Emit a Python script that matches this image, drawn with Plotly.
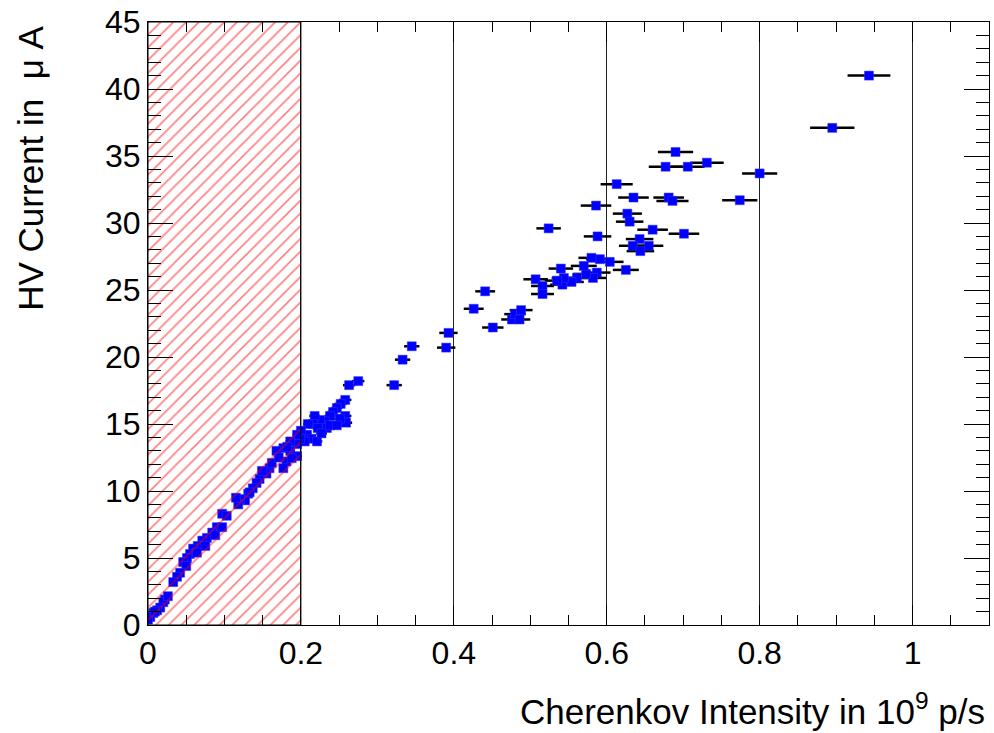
import plotly.graph_objects as go

# Cherenkov intensity (10^9 p/s), HV current (uA), horizontal uncertainty
intensity = [
    0.943, 0.895, 0.800, 0.774, 0.731, 0.706, 0.690, 0.677, 0.613, 0.635,
    0.681, 0.686, 0.586, 0.627, 0.630, 0.660, 0.701, 0.588, 0.643, 0.634,
    0.655, 0.644, 0.625, 0.604, 0.591, 0.580, 0.587, 0.582, 0.573, 0.570,
    0.561, 0.554, 0.542, 0.544, 0.535, 0.540, 0.507, 0.516, 0.516, 0.524,
    0.426, 0.441, 0.451, 0.476, 0.480, 0.488, 0.486, 0.393, 0.390, 0.345,
    0.333, 0.322, 0.275, 0.263, 0.258, 0.252, 0.247, 0.242, 0.238, 0.258,
    0.259, 0.251, 0.231, 0.225, 0.218, 0.216, 0.234, 0.222, 0.209, 0.208,
    0.214, 0.221, 0.205, 0.227, 0.238, 0.247, 0.200,
    0.199, 0.195, 0.195, 0.186, 0.177, 0.168, 0.186, 0.181, 0.177, 0.195,
    0.188, 0.159, 0.155, 0.146, 0.142, 0.137, 0.131, 0.127, 0.120, 0.118,
    0.097, 0.103, 0.090, 0.084, 0.077, 0.071, 0.065, 0.059, 0.055, 0.051,
    0.046, 0.050, 0.042, 0.038, 0.033, 0.022, 0.020, 0.016, 0.012, 0.007,
    0.003, 0.000, 0.088, 0.075, 0.064, 0.097, 0.149, 0.162, 0.171, 0.182,
    0.133, 0.115, 0.026, 0.009,
]
current = [
    41.0, 37.1, 33.7, 31.7, 34.5, 34.2, 35.3, 34.2, 32.9, 31.9,
    31.9, 31.65, 31.3, 30.7, 30.1, 29.5, 29.2, 29.0, 28.8, 28.3,
    28.3, 27.9, 26.5, 27.1, 27.3, 27.4, 26.3, 25.9, 26.2, 26.8,
    25.9, 25.6, 25.4, 25.9, 25.7, 26.6, 25.8, 25.3, 24.7, 29.6,
    23.6, 24.9, 22.2, 22.8, 23.2, 23.5, 22.8, 21.8, 20.7, 20.8,
    19.8, 17.9, 18.2, 17.9, 16.8, 16.5, 16.2, 15.9, 15.6, 15.6,
    15.1, 15.4, 15.2, 15.3, 15.6, 15.0, 14.7, 14.7, 15.0, 14.2,
    13.9, 13.7, 13.7, 14.3, 14.9, 14.9, 14.5,
    13.9, 13.5, 14.2, 13.7, 13.2, 13.0, 13.0, 12.2, 11.7, 12.6,
    12.45, 11.7, 11.3, 10.9, 10.6, 10.2, 9.8, 9.3, 9.4, 9.0,
    8.3, 8.15, 7.3, 6.9, 6.5, 6.3, 5.9, 5.7, 5.3, 5.0,
    4.7, 4.4, 3.9, 3.6, 3.2, 1.9, 1.7, 1.3, 1.1, 0.9,
    0.6, 0.4, 6.7, 5.9, 5.4, 7.3, 11.5, 12.1, 12.5, 13.3,
    9.9, 9.5, 2.15, 1.0,
]
intensity_err = [
    0.028, 0.029, 0.023, 0.023, 0.022, 0.022, 0.023, 0.022, 0.021, 0.020,
    0.020, 0.021, 0.020, 0.019, 0.018, 0.020, 0.020, 0.018, 0.018, 0.018,
    0.019, 0.018, 0.017, 0.018, 0.018, 0.017, 0.018, 0.017, 0.017, 0.017,
    0.017, 0.016, 0.016, 0.016, 0.016, 0.016, 0.016, 0.015, 0.015, 0.016,
    0.013, 0.013, 0.014, 0.014, 0.014, 0.015, 0.014, 0.012, 0.012, 0.010,
    0.010, 0.010, 0.008, 0.008, 0.008, 0.008, 0.007, 0.007, 0.007, 0.008,
    0.008, 0.008, 0.007, 0.007, 0.007, 0.006, 0.007, 0.007, 0.006, 0.006,
    0.006, 0.007, 0.006, 0.007, 0.007, 0.007, 0.006,
    0.006, 0.006, 0.006, 0.006, 0.005, 0.005, 0.006, 0.005, 0.005, 0.006,
    0.006, 0.005, 0.005, 0.004, 0.004, 0.004, 0.004, 0.004, 0.004, 0.004,
    0.003, 0.003, 0.003, 0.003, 0.002, 0.002, 0.002, 0.002, 0.002, 0.002,
    0.001, 0.002, 0.001, 0.001, 0.001, 0.001, 0.001, 0.000, 0.000, 0.000,
    0.000, 0.000, 0.003, 0.002, 0.002, 0.003, 0.004, 0.005, 0.005, 0.005,
    0.004, 0.003, 0.001, 0.000,
]

# excluded (hatched) region
cut_x = [0.0, 0.2]
y_span = [0.0, 45.0]

x_range = [0.0, 1.1]
y_range = [0.0, 45.0]

FONT = "Liberation Sans, Arial, Helvetica, sans-serif"

fig = go.Figure()

fig.add_trace(go.Scatter(
    x=intensity, y=current,
    mode="markers",
    marker=dict(symbol="square", size=9, color="#0000ff",
                line=dict(width=0.5, color="#3333ff")),
    error_x=dict(type="data", array=intensity_err, color="black",
                 thickness=2.5, width=0),
    showlegend=False,
))

fig.add_trace(go.Scatter(
    x=[cut_x[0], cut_x[1], cut_x[1], cut_x[0], cut_x[0]],
    y=[y_span[0], y_span[0], y_span[1], y_span[1], y_span[0]],
    mode="lines",
    fill="toself",
    fillcolor="rgba(0,0,0,0)",
    fillpattern=dict(shape="/", fgcolor="#ff0000", bgcolor="rgba(0,0,0,0)",
                     size=9, solidity=0.18),
    line=dict(color="black", width=1),
    showlegend=False,
    hoverinfo="skip",
))

fig.update_layout(
    width=994, height=733,
    margin=dict(l=148, r=4, t=18, b=108),
    paper_bgcolor="white",
    plot_bgcolor="white",
    font=dict(family=FONT, color="black", size=32),
    showlegend=False,
    xaxis=dict(
        range=x_range, tick0=0, dtick=0.2,
        ticks="inside", ticklen=20, tickwidth=1, tickcolor="black",
        showline=True, linecolor="black", linewidth=1, mirror="ticks",
        showgrid=True, gridcolor="#222222", gridwidth=1,
        zeroline=False, ticklabeloverflow="allow",
        minor=dict(ticks="inside", ticklen=10, dtick=0.05, tickcolor="black",
                   showgrid=False),
        tickfont=dict(size=32, family=FONT),
    ),
    yaxis=dict(
        range=y_range, tick0=0, dtick=5,
        ticks="inside", ticklen=25, tickwidth=1, tickcolor="black",
        showline=True, linecolor="black", linewidth=1, mirror="ticks",
        showgrid=False, zeroline=False, ticklabeloverflow="allow",
        minor=dict(ticks="inside", ticklen=13, dtick=1, tickcolor="black",
                   showgrid=False),
        tickfont=dict(size=32, family=FONT),
    ),
    annotations=[
        dict(text="Cherenkov Intensity in 10<sup>9</sup> p/s",
             xref="paper", yref="paper", x=0.9976, y=-0.14,
             xanchor="right", yanchor="middle", showarrow=False,
             font=dict(size=35, family=FONT, color="black")),
        dict(text="HV Current in\u00a0 \u03bc A",
             xref="paper", yref="paper", x=-0.140, y=0.9967,
             xanchor="center", yanchor="top", textangle=-90, showarrow=False,
             font=dict(size=35, family=FONT, color="black")),
    ],
)

fig.write_html("out.html")
